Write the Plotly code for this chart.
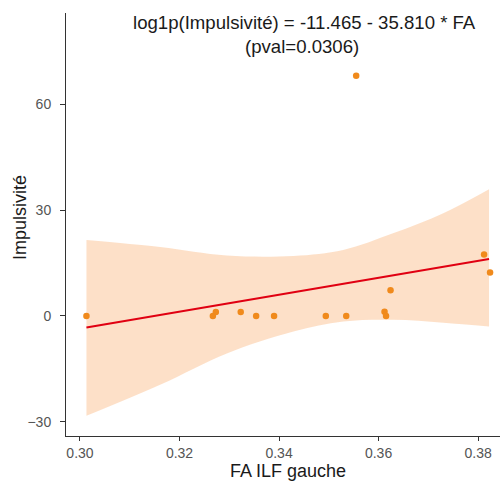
import plotly.graph_objects as go

# Data points
fa = [0.3013, 0.3267, 0.3273, 0.3323, 0.3354, 0.3390, 0.3494, 0.3535,
      0.3555, 0.3612, 0.3615, 0.3624, 0.3812, 0.3824]
impuls = [0, 0, 1.1, 1.1, 0, 0, 0, 0, 68, 1.2, 0, 7.3, 17.4, 12.3]

# Fitted line and confidence band
band_x = [0.3013, 0.3161, 0.3295, 0.3429, 0.3529, 0.3629, 0.3730, 0.3822]
band_hi = [21.5, 19.5, 17.1, 17.0, 18.7, 23.4, 29.1, 35.9]
band_lo = [-28.3, -19.5, -10.6, -4.4, -1.6, -1.1, -1.9, -3.0]
fit_x = [0.3013, 0.3822]
fit_y = [-3.3, 16.1]

x_ticks = [0.30, 0.32, 0.34, 0.36, 0.38]
y_ticks = [-30, 0, 30, 60]

title_line1 = "log1p(Impulsivité) = -11.465 - 35.810 * FA"
title_line2 = "(pval=0.0306)"
x_title = "FA ILF gauche"
y_title = "Impulsivité"

W, H = 502, 484
L, R, T, B = 66, 2, 13, 48
PW, PH = W - L - R, H - T - B


def px_x(p):
    return (p - L) / PW


def px_y(p):
    return 1 - (p - T) / PH


FONT = "Liberation Sans, Arial, sans-serif"

fig = go.Figure()
fig.add_trace(go.Scatter(x=band_x, y=band_hi, mode="lines", line=dict(width=0, shape="spline"),
                         hoverinfo="skip", showlegend=False))
fig.add_trace(go.Scatter(x=band_x, y=band_lo, mode="lines", line=dict(width=0, shape="spline"),
                         fill="tonexty", fillcolor="rgba(253,221,194,0.9)",
                         hoverinfo="skip", showlegend=False))
fig.add_trace(go.Scatter(x=fit_x, y=fit_y, mode="lines",
                         line=dict(color="#E00012", width=2), showlegend=False))
fig.add_trace(go.Scatter(x=fa, y=impuls, mode="markers",
                         marker=dict(color="#F08A1C", size=6.5), showlegend=False))

fig.add_annotation(text=title_line1, xref="paper", yref="paper",
                   x=px_x(304), y=px_y(22), xanchor="center", yanchor="middle",
                   showarrow=False, font=dict(family=FONT, size=18.6, color="#1a1a1a"))
fig.add_annotation(text=title_line2, xref="paper", yref="paper",
                   x=px_x(302), y=px_y(46), xanchor="center", yanchor="middle",
                   showarrow=False, font=dict(family=FONT, size=18.6, color="#1a1a1a"))
fig.add_annotation(text=x_title, xref="paper", yref="paper",
                   x=px_x(288), y=px_y(471), xanchor="center", yanchor="middle",
                   showarrow=False, font=dict(family=FONT, size=18, color="#1a1a1a"))
fig.add_annotation(text=y_title, xref="paper", yref="paper", textangle=-90,
                   x=px_x(20), y=px_y(218), xanchor="center", yanchor="middle",
                   showarrow=False, font=dict(family=FONT, size=18, color="#1a1a1a"))

fig.update_layout(
    width=W, height=H,
    margin=dict(l=L, r=R, t=T, b=B),
    paper_bgcolor="white", plot_bgcolor="white",
    font=dict(family=FONT, size=14, color="#555555"),
    xaxis=dict(range=[0.29719, 0.3844], tickvals=x_ticks,
               ticktext=[f"{v:.2f}" for v in x_ticks], automargin=False,
               showgrid=False, zeroline=False, showline=True, linecolor="#333333", linewidth=1,
               ticks="outside", ticklen=4, tickcolor="#333333", ticklabelstandoff=0),
    yaxis=dict(range=[-34.0, 85.8], tickvals=y_ticks, automargin=False,
               showgrid=False, zeroline=False, showline=True, linecolor="#333333", linewidth=1,
               ticks="outside", ticklen=5, tickcolor="#333333", ticklabelstandoff=6),
)

fig.write_html("out.html", config={"displayModeBar": False},
               post_script="document.body.style.margin='0';document.body.style.overflow='hidden';")
